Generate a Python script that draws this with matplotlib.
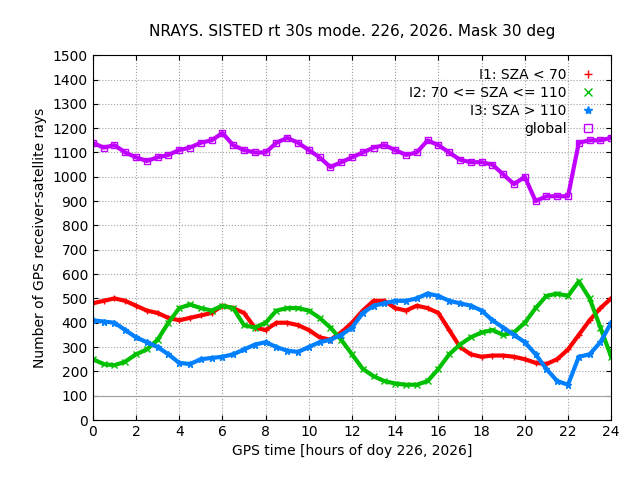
import matplotlib
matplotlib.use("Agg")
import matplotlib.pyplot as plt
from matplotlib.lines import Line2D
import numpy as np

hours = np.arange(0, 24.01, 0.5)
i1 = [480,490,500,490,470,450,440,420,410,420,430,440,470,460,440,380,370,400,400,390,370,340,330,360,400,450,490,490,460,450,470,460,440,370,300,270,260,265,265,260,250,235,230,250,290,350,410,460,500]
i2 = [250,230,225,240,270,290,330,400,460,475,460,450,470,460,390,380,400,450,460,460,450,420,380,330,270,210,180,160,150,145,145,160,210,270,310,340,360,370,350,360,400,460,510,520,510,570,500,380,260]
i3 = [410,405,400,370,340,320,300,270,235,230,250,255,260,270,290,310,320,300,285,280,300,320,330,350,380,440,470,480,490,490,500,520,510,490,480,470,450,410,380,350,320,270,210,160,145,260,270,320,400]
glob = [1140,1120,1130,1100,1080,1065,1080,1090,1110,1120,1140,1150,1180,1130,1110,1100,1100,1140,1160,1140,1110,1080,1040,1060,1080,1100,1120,1130,1110,1090,1100,1150,1130,1100,1070,1060,1060,1050,1010,970,1000,900,920,920,920,1140,1150,1150,1160]
labels = ['I1: SZA < 70', 'I2: 70 <= SZA <= 110', 'I3: SZA > 110', 'global']
colors = ['#ff0000', '#00c000', '#0080ff', '#c000ff']
markers = ['+', 'x', '*', 's']

fig, ax = plt.subplots(figsize=(6.4, 4.8), dpi=100)
fig.subplots_adjust(left=0.145, right=0.955, top=0.885, bottom=0.125)
ax.axhline(100, color='#a0a0a0', lw=0.8)
handles = []
for ys, c, m, lab in zip([i1, i2, i3, glob], colors, markers, labels):
    ax.plot(hours, ys, color=c, lw=3, marker=m, ms=5, mfc='none' if m == 's' else c)
    handles.append(Line2D([], [], ls='none', color=c, marker=m, ms=6, mfc='none' if m == 's' else c, label=lab))
ax.set_xlim(0, 24); ax.set_ylim(0, 1500)
ax.set_xticks(range(0, 25, 2)); ax.set_yticks(range(0, 1501, 100))
ax.grid(True, color='#a0a0a0', ls=':', lw=0.8)
ax.tick_params(direction='in', top=True, right=True, labelsize=10)
ax.set_xlabel('GPS time [hours of doy 226, 2026]')
ax.set_ylabel('Number of GPS receiver-satellite rays')
ax.set_title('NRAYS. SISTED rt 30s mode. 226, 2026. Mask 30 deg', fontsize=11, pad=14)
leg = ax.legend(handles=handles, loc='upper right', frameon=False, markerfirst=False, fontsize=10,
                handlelength=1.5, labelspacing=0.3)
fig.savefig('out.png')
